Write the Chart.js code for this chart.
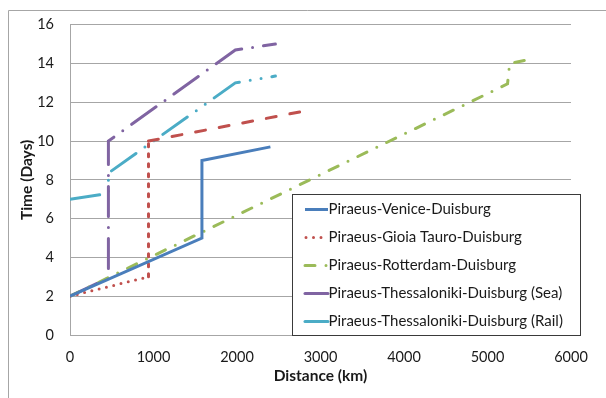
<!DOCTYPE html>
<html>
<head>
<meta charset="utf-8">
<script src="https://cdn.jsdelivr.net/npm/chart.js@4.4.1/dist/chart.umd.min.js"></script>
<style>
  html, body { margin: 0; padding: 0; background: #fff; }
  #wrap { width: 606px; height: 398px; }
</style>
</head>
<body>
<div id="wrap"><canvas id="transitChart" width="606" height="398"></canvas></div>
<script>
// route names, in legend order
const routeNames = [
  'Piraeus-Venice-Duisburg',
  'Piraeus-Gioia Tauro-Duisburg',
  'Piraeus-Rotterdam-Duisburg',
  'Piraeus-Thessaloniki-Duisburg (Sea)',
  'Piraeus-Thessaloniki-Duisburg (Rail)',
];

// cumulative distance (km) and time (days) along each route
const veniceKm = [0, 1580, 1580, 2400];
const veniceDays = [2, 5, 9, 9.7];

const gioiaKm = [0, 940, 940, 2750];
const gioiaDays = [2, 3, 10, 11.5];

const rotterdamKm = [0, 5240, 5265, 5440];
const rotterdamDays = [2, 12.95, 14.0, 14.15];

const thessSeaKm = [0, 460, 460, 1980, 2460];
const thessSeaDays = [2, 2.95, 10, 14.7, 15.0];

const thessRailKm = [0, 460, 460, 1980, 2460];
const thessRailDays = [7, 7.3, 8.35, 13.0, 13.35];

// axis ticks
const distanceTicks = [0, 1000, 2000, 3000, 4000, 5000, 6000];
const timeTicks = [0, 2, 4, 6, 8, 10, 12, 14, 16];

const colors = ['#4a7ebb', '#c0504d', '#9bbb59', '#8064a2', '#4bacc6'];
const dashes = [[], [0, 7.5], [10, 11, 0, 11], [30, 11, 0, 11], [30, 11, 0, 11, 0, 11]];

function toPoints(xs, ys) {
  return xs.map((x, i) => ({ x: x, y: ys[i] }));
}

// the Gioia Tauro line changes its dash look on each leg
const gioiaLegDash = [[0, 7.5], [3, 7], [10, 14]];

const series = [
  toPoints(veniceKm, veniceDays),
  toPoints(gioiaKm, gioiaDays),
  toPoints(rotterdamKm, rotterdamDays),
  toPoints(thessSeaKm, thessSeaDays),
  toPoints(thessRailKm, thessRailDays),
];

const datasets = series.map((pts, i) => {
  const ds = {
    label: routeNames[i],
    data: pts,
    borderColor: colors[i],
    borderWidth: 3,
    borderDash: dashes[i],
    borderCapStyle: i === 0 ? 'butt' : 'round',
    pointRadius: 0,
    tension: 0,
    fill: false,
  };
  if (i === 1) {
    ds.segment = { borderDash: ctx => gioiaLegDash[ctx.p0DataIndex] };
  }
  return ds;
});

const frame = {
  id: 'frame',
  beforeDraw(chart) {
    const c = chart.ctx;
    c.save();
    c.fillStyle = '#fff';
    c.fillRect(0, 0, chart.width, chart.height);
    c.strokeStyle = '#a6a6a6';
    c.lineWidth = 1;
    c.beginPath();
    c.moveTo(8.5, chart.height);
    c.lineTo(8.5, 10.5);
    c.lineTo(chart.width, 10.5);
    c.stroke();
    c.restore();
  }
};

// boxed legend sitting inside the plot, lower right
const boxLegend = {
  id: 'boxLegend',
  afterDraw(chart) {
    const c = chart.ctx;
    const left = 292.5, top = 194.5, w = 288, h = 141;
    c.save();
    c.fillStyle = '#fff';
    c.fillRect(left, top, w, h);
    c.strokeStyle = '#3a3a3a';
    c.lineWidth = 1;
    c.strokeRect(left, top, w, h);
    c.font = '15px Lato, "Open Sans", sans-serif';
    c.fillStyle = '#1a1a1a';
    c.textBaseline = 'middle';
    chart.data.datasets.forEach((ds, i) => {
      const y = 209.5 + i * 28;
      c.strokeStyle = ds.borderColor;
      c.lineWidth = 3;
      c.lineCap = ds.borderCapStyle;
      c.setLineDash(ds.borderDash);
      c.beginPath();
      c.moveTo(i === 1 ? 306 : 305, y);
      c.lineTo(328, y);
      c.stroke();
      c.setLineDash([]);
      c.fillText(ds.label, 328.5, y);
    });
    c.restore();
  }
};

const tickFont = { family: 'Lato, "Open Sans", sans-serif', size: 14.5 };
const titleFont = { family: 'Lato, "Open Sans", sans-serif', size: 15.5, weight: 'bold' };

new Chart(document.getElementById('transitChart').getContext('2d'), {
  type: 'line',
  data: { datasets: datasets },
  options: {
    responsive: false,
    animation: false,
    layout: { autoPadding: false, padding: { left: 10, top: 20, right: 35, bottom: 4 } },
    plugins: {
      legend: { display: false },
      tooltip: { enabled: false },
    },
    scales: {
      x: {
        type: 'linear',
        min: 0,
        max: 6000,
        afterBuildTicks: s => { s.ticks = distanceTicks.map(v => ({ value: v })); },
        afterFit: s => { s.height = 59; },
        ticks: { padding: 14, color: '#1a1a1a', font: tickFont, maxRotation: 0, callback: v => String(v) },
        grid: { display: false, drawTicks: false },
        border: { display: true, color: '#a6a6a6', width: 1 },
        title: { display: true, text: 'Distance (km)', color: '#1a1a1a', font: titleFont, padding: { top: 0, bottom: 8.7 } },
      },
      y: {
        min: 0,
        max: 16,
        afterBuildTicks: s => { s.ticks = timeTicks.map(v => ({ value: v })); },
        afterFit: s => { s.width = 60; },
        ticks: { padding: 16, color: '#1a1a1a', font: tickFont, callback: v => String(v) },
        grid: { color: '#a6a6a6', drawTicks: false },
        border: { display: true, color: '#a6a6a6', width: 1 },
        title: { display: true, text: 'Time (Days)', color: '#1a1a1a', font: titleFont, padding: { top: 7.4, bottom: 0 } },
      }
    }
  },
  plugins: [frame, boxLegend]
});
</script>
</body>
</html>
